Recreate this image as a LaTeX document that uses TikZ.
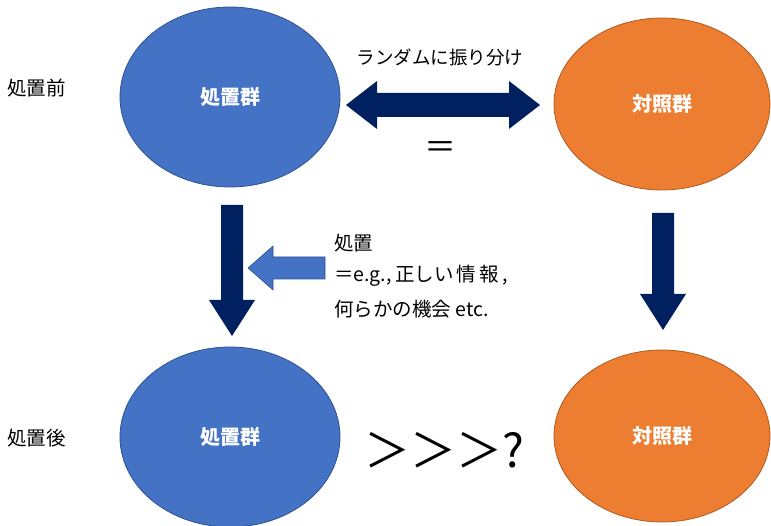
\documentclass[tikz,border=0pt]{standalone}
\usepackage{fontspec}
\setmainfont{Noto Sans CJK JP}
\usetikzlibrary{shapes.geometric}
\definecolor{cblue}{HTML}{4472C4}
\definecolor{cblueline}{HTML}{2F528F}
\definecolor{corange}{HTML}{ED7D31}
\definecolor{corangeline}{HTML}{AE5A21}
\definecolor{navy}{HTML}{002060}
\tikzset{
  bluegrp/.style={ellipse, fill=cblue, draw=cblueline, line width=0.8pt, minimum width=220pt, minimum height=180pt, text=white, font=\fontsize{20}{22}\selectfont\bfseries, inner sep=0pt},
  orggrp/.style={ellipse, fill=corange, draw=corangeline, line width=0.8pt, minimum width=216pt, minimum height=172pt, text=white, font=\fontsize{20}{22}\selectfont\bfseries, inner sep=0pt},
  lbl/.style={font=\fontsize{19.5}{22}\selectfont, inner sep=0pt},
  blockarrow/.style={fill=navy, draw=none},
  lightarrow/.style={fill=cblue, draw=cblueline, line width=0.6pt},
}
\begin{document}
\begin{tikzpicture}[x=1pt,y=-1pt]
\useasboundingbox (0,0) rectangle (771,526);
\node[bluegrp] (b1) at (230,97) {処置群};
\node[orggrp] (o1) at (662,104) {対照群};
\node[bluegrp] (b2) at (230,437) {処置群};
\node[orggrp] (o2) at (662,436) {対照群};
\node[lbl, anchor=west] (pre) at (7,88) {処置前};
\node[lbl, anchor=west] (post) at (7,438) {処置後};
\node[lbl, font=\fontsize{18.5}{22}\selectfont] (rand) at (440,57) {ランダムに振り分け};
\node[font=\fontsize{32}{32}\selectfont, inner sep=0pt] (eq) at (440,150) {＝};
% double arrow
\fill[blockarrow] (346,105) -- (377,81) -- (377,93) -- (509,93) -- (509,81) -- (540,105) -- (509,129) -- (509,117) -- (377,117) -- (377,129) -- cycle;
% left down arrow
\fill[blockarrow] (221,205) -- (243,205) -- (243,300) -- (255,300) -- (232,336) -- (209,300) -- (221,300) -- cycle;
% right down arrow
\fill[blockarrow] (652,213) -- (674,213) -- (674,294) -- (686,294) -- (663,330) -- (640,294) -- (652,294) -- cycle;
% light blue arrow
\filldraw[lightarrow] (325,257) -- (273,257) -- (273,246) -- (248,268) -- (273,290) -- (273,279) -- (325,279) -- cycle;
\node[lbl, anchor=west] (t1) at (334,243) {処置};
\node[lbl, anchor=west] (t2) at (334,276) {＝e.g.,\,正しい\,情\,報\,,};
\node[lbl, anchor=west] (t3) at (334,309) {何らかの機会 etc.};
\node[font=\fontsize{46}{46}\selectfont, inner sep=0pt, anchor=west] (gt) at (364,450) {＞＞＞?};
\end{tikzpicture}
\end{document}
